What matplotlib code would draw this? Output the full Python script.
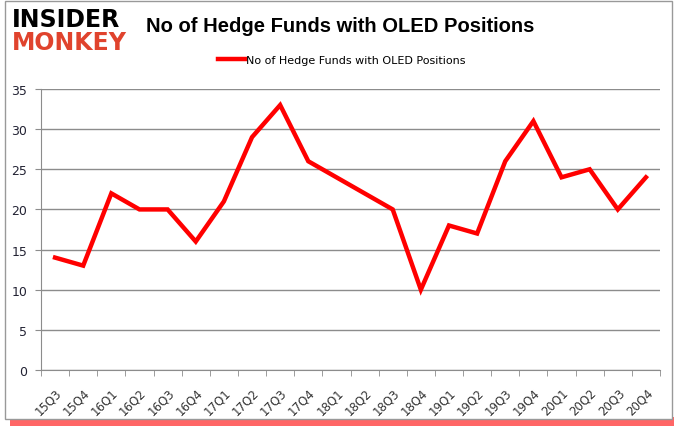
import numpy as np
import matplotlib.pyplot as plt
from matplotlib.patches import Rectangle

quarters = ['15Q3', '15Q4', '16Q1', '16Q2', '16Q3', '16Q4', '17Q1', '17Q2', '17Q3',
            '17Q4', '18Q1', '18Q2', '18Q3', '18Q4', '19Q1', '19Q2', '19Q3', '19Q4',
            '20Q1', '20Q2', '20Q3', '20Q4']
funds = [14, 13, 22, 20, 20, 16, 21, 29, 33, 26, 24, 22, 20, 10, 18, 17, 26, 31,
         24, 25, 20, 24]
series_name = 'No of Hedge Funds with OLED Positions'

fig = plt.figure(figsize=(6.78, 4.31), dpi=100)
W, H = 678, 431

# frame with red shadow
fig.patches.append(Rectangle((10 / W, 4 / H), 664 / W, 9 / H, transform=fig.transFigure,
                             color='#ff0000', alpha=0.6, zorder=-3, lw=0))
fig.patches.append(Rectangle((5 / W, 11 / H), 667 / W, 418 / H, transform=fig.transFigure,
                             facecolor='white', edgecolor='#999999', lw=1, zorder=-2))

ax = fig.add_axes([41 / W, (H - 371) / H, (660 - 41) / W, (371 - 90) / H])
x = np.arange(len(quarters))
ax.plot(x, funds, color='#ff0000', lw=3.2, label=series_name, solid_joinstyle='miter')

ax.set_xlim(-0.5, len(quarters) - 0.5)
ax.set_ylim(0, 35)
ax.set_yticks(range(0, 36, 5))
ax.yaxis.grid(True, color='#8c8c8c', lw=1)
ax.set_axisbelow(True)
for s in ['top', 'right']:
    ax.spines[s].set_visible(False)
ax.spines['left'].set_color('#8c8c8c')
ax.spines['bottom'].set_color('#8c8c8c')

ax.set_xticks(x)
ax.set_xticklabels(quarters, rotation=45, fontsize=8.5, color='#333333',
                   ha='right', rotation_mode='anchor')
ax.tick_params(axis='x', length=0, pad=11)
ax.set_xticks(np.arange(-0.5, len(quarters), 1), minor=True)
ax.tick_params(axis='x', which='minor', length=4, color='#8c8c8c')
ax.tick_params(axis='y', length=4, color='#8c8c8c', labelsize=9, labelcolor='#222233', pad=6)

fig.text(340 / W, 1 - 27 / H, 'No of Hedge Funds with OLED Positions', ha='center',
         va='center', fontsize=14.5, fontweight='bold', family='Liberation Sans')
fig.legend(loc='center', bbox_to_anchor=(342 / W, 1 - 61 / H), frameon=False,
           fontsize=8, handlelength=2.4, handletextpad=0.1)

fig.text(12 / W, 1 - 20 / H, 'INSIDER', fontsize=17, fontweight='heavy', color='black',
         va='center', ha='left', family='DejaVu Sans')
fig.text(12 / W, 1 - 43 / H, 'MONKEY', fontsize=17, fontweight='heavy', color='#e0432d',
         va='center', ha='left', family='DejaVu Sans')

fig.savefig('out.png', dpi=100)
